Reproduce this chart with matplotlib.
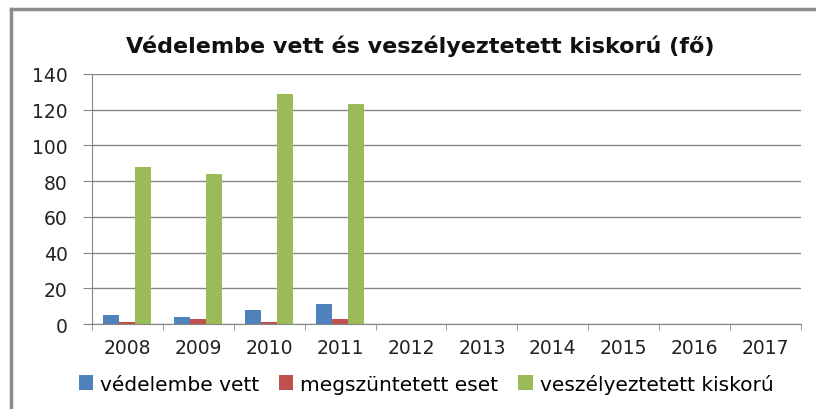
import numpy as np
import matplotlib.pyplot as plt
from matplotlib.lines import Line2D

plt.rcParams['font.family'] = ['DejaVu Sans']

years = ['2008', '2009', '2010', '2011', '2012', '2013', '2014', '2015', '2016', '2017']
vedelembe = [5, 4, 8, 11]
megszuntetett = [1, 3, 1, 3]
veszelyeztetett = [88, 84, 129, 123]

series = [
    ('védelembe vett', vedelembe, '#4F81BD'),
    ('megszüntetett eset', megszuntetett, '#C0504D'),
    ('veszélyeztetett kiskorú', veszelyeztetett, '#9BBB59'),
]

fig = plt.figure(figsize=(8.16, 4.10), dpi=100)
ax = fig.add_axes([0.1127, 0.2073, 0.8689, 0.6098])

# chart border: only top and left edges show in the screenshot
bx, by = 11 / 816, 1 - 10 / 410
fig.lines.append(Line2D([bx, 1.0], [by, by], transform=fig.transFigure,
                        color='#8c8c8c', linewidth=2.5))
fig.lines.append(Line2D([bx, bx], [0, by], transform=fig.transFigure,
                        color='#8c8c8c', linewidth=2.5))

x = np.arange(len(years))
w = 0.226
for i, (name, vals, col) in enumerate(series):
    ax.bar(x[:len(vals)] + (i - 1) * w, vals, width=w, color=col, label=name, zorder=3)

ax.set_xlim(-0.5, len(years) - 0.5)
ax.set_ylim(0, 140)
ax.set_yticks(range(0, 141, 20))
ax.set_xticks(x)
ax.set_xticklabels(years)
ax.set_xticks(np.arange(-0.5, len(years), 1), minor=True)
ax.tick_params(axis='x', which='major', length=0, labelsize=13.5, pad=10, colors='#222222')
ax.tick_params(axis='x', which='minor', length=4, color='#868686')
ax.tick_params(axis='y', length=6.5, color='#868686', labelsize=13.5, colors='#222222', pad=11)
ax.yaxis.grid(True, color='#868686', linewidth=1)
ax.set_axisbelow(True)
for s in ['top', 'right']:
    ax.spines[s].set_visible(False)
for s in ['left', 'bottom']:
    ax.spines[s].set_color('#868686')

fig.text(0.515, 0.888, 'Védelembe vett és veszélyeztetett kiskorú (fő)',
         ha='center', va='center', fontsize=16, fontweight='bold', color='#111111')

fig.legend(loc='center', bbox_to_anchor=(0.522, 0.062), ncol=3, frameon=False,
           fontsize=14.5, handlelength=0.7, handleheight=0.7, handletextpad=0.35,
           columnspacing=1.0)

plt.savefig('out.png')
